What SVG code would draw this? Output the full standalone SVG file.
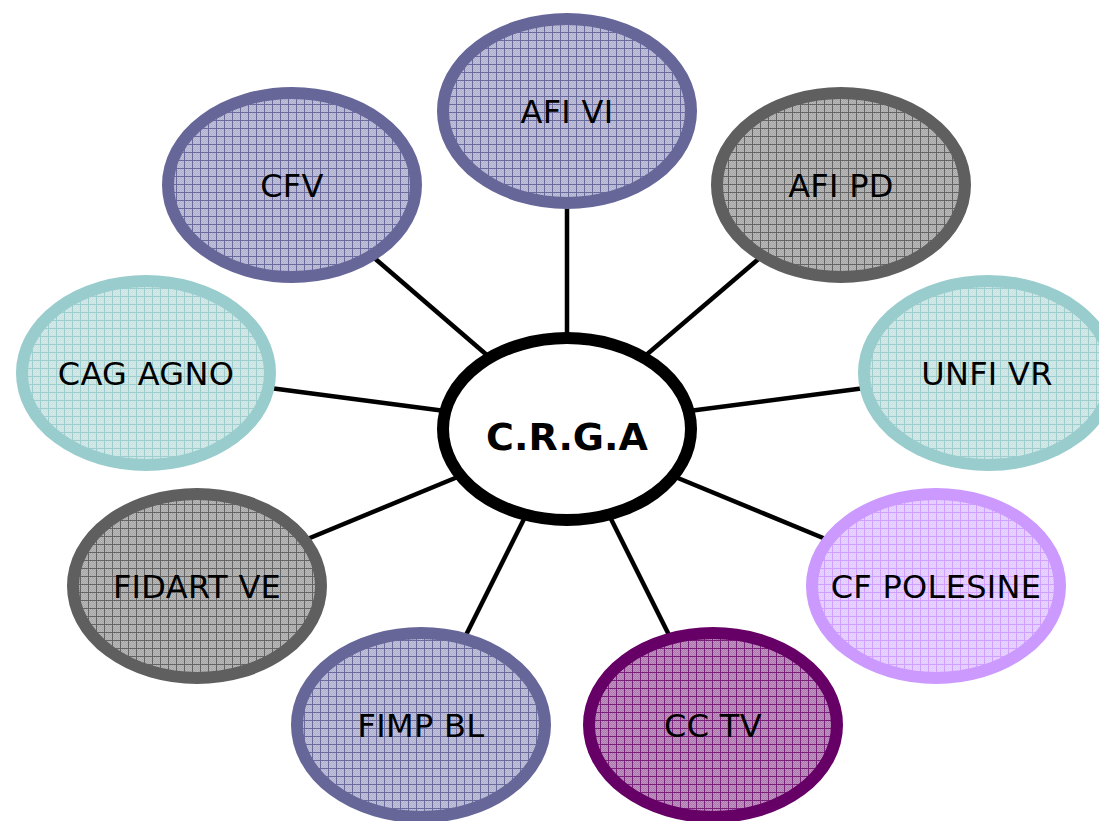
<svg xmlns="http://www.w3.org/2000/svg" width="1099" height="821" viewBox="0 0 1099 821">
  <style>
    .node { stroke-width: 12; }
    .lbl { font-family: "DejaVu Sans", Verdana, sans-serif; font-size: 32px; letter-spacing: 0.3px; fill: #000; text-anchor: middle; }
    .hub { font-family: "DejaVu Sans", Verdana, sans-serif; font-size: 38px; font-weight: bold; fill: #000; text-anchor: middle; }
    .conn line { stroke: #000; stroke-width: 4.5; }
  </style>
  <defs>
    <pattern id="dither" width="2" height="2" patternUnits="userSpaceOnUse">
      <rect x="0" y="0" width="1" height="1" fill="#fff" fill-opacity="0.22"/>
      <rect x="1" y="1" width="1" height="1" fill="#fff" fill-opacity="0.22"/>
    </pattern>
    <pattern id="pBlue" width="8" height="8" patternUnits="userSpaceOnUse">
      <rect width="8" height="8" fill="#b0b0cf"/>
      <rect width="8" height="8" fill="url(#dither)"/>
      <path d="M0 0.5H8M0.5 0V8" stroke="#6a6a9c" stroke-width="1" fill="none"/>
    </pattern>
    <pattern id="pGrey" width="8" height="8" patternUnits="userSpaceOnUse">
      <rect width="8" height="8" fill="#a6a6a6"/>
      <rect width="8" height="8" fill="url(#dither)"/>
      <path d="M0 0.5H8M0.5 0V8" stroke="#646464" stroke-width="1" fill="none"/>
    </pattern>
    <pattern id="pTeal" width="8" height="8" patternUnits="userSpaceOnUse">
      <rect width="8" height="8" fill="#c9e3e3"/>
      <rect width="8" height="8" fill="url(#dither)"/>
      <path d="M0 0.5H8M0.5 0V8" stroke="#9dcdcd" stroke-width="1" fill="none"/>
    </pattern>
    <pattern id="pLilac" width="8" height="8" patternUnits="userSpaceOnUse">
      <rect width="8" height="8" fill="#e2c9ff"/>
      <rect width="8" height="8" fill="url(#dither)"/>
      <path d="M0 0.5H8M0.5 0V8" stroke="#cfa0ff" stroke-width="1" fill="none"/>
    </pattern>
    <pattern id="pPlum" width="8" height="8" patternUnits="userSpaceOnUse">
      <rect width="8" height="8" fill="#ad78ad"/>
      <rect width="8" height="8" fill="url(#dither)"/>
      <path d="M0 0.5H8M0.5 0V8" stroke="#7a207a" stroke-width="1" fill="none"/>
    </pattern>
  </defs>

  <rect width="1099" height="821" fill="#fff"/>

  <g id="connectors" class="conn">
    <line x1="567" y1="205" x2="567" y2="336"/>
    <line x1="372" y1="256" x2="488" y2="356"/>
    <line x1="762" y1="256" x2="645" y2="356"/>
    <line x1="270" y1="388" x2="445" y2="411"/>
    <line x1="865" y1="388" x2="689" y2="411"/>
    <line x1="305" y1="540" x2="460" y2="476"/>
    <line x1="828" y1="540" x2="673" y2="476"/>
    <line x1="465" y1="637" x2="525" y2="517"/>
    <line x1="670" y1="637" x2="610" y2="517"/>
  </g>

  <g id="hub">
    <ellipse cx="567" cy="429" rx="124" ry="91" fill="#fff" stroke="#000" stroke-width="12"/>
    <text class="hub" x="567" y="450">C.R.G.A</text>
  </g>

  <g id="afi-vi">
    <ellipse class="node" cx="567" cy="111" rx="124" ry="92" fill="url(#pBlue)" stroke="#666699"/>
    <text class="lbl" x="567" y="123">AFI VI</text>
  </g>
  <g id="cfv">
    <ellipse class="node" cx="292" cy="185" rx="124" ry="92" fill="url(#pBlue)" stroke="#666699"/>
    <text class="lbl" x="292" y="197">CFV</text>
  </g>
  <g id="afi-pd">
    <ellipse class="node" cx="841" cy="185" rx="124" ry="92" fill="url(#pGrey)" stroke="#5f5f5f"/>
    <text class="lbl" x="841" y="197">AFI PD</text>
  </g>
  <g id="cag-agno">
    <ellipse class="node" cx="146" cy="373" rx="124" ry="92" fill="url(#pTeal)" stroke="#99cccc"/>
    <text class="lbl" x="146" y="385">CAG AGNO</text>
  </g>
  <g id="unfi-vr">
    <ellipse class="node" cx="988" cy="373" rx="124" ry="92" fill="url(#pTeal)" stroke="#99cccc"/>
    <text class="lbl" x="987" y="385">UNFI VR</text>
  </g>
  <g id="fidart-ve">
    <ellipse class="node" cx="197" cy="586" rx="124" ry="92" fill="url(#pGrey)" stroke="#5f5f5f"/>
    <text class="lbl" x="197" y="598">FIDART VE</text>
  </g>
  <g id="cf-polesine">
    <ellipse class="node" cx="936" cy="586" rx="124" ry="92" fill="url(#pLilac)" stroke="#cc99ff"/>
    <text class="lbl" x="936" y="598">CF POLESINE</text>
  </g>
  <g id="fimp-bl">
    <ellipse class="node" cx="421" cy="725" rx="124" ry="92" fill="url(#pBlue)" stroke="#666699"/>
    <text class="lbl" x="421" y="737">FIMP BL</text>
  </g>
  <g id="cc-tv">
    <ellipse class="node" cx="713" cy="725" rx="124" ry="92" fill="url(#pPlum)" stroke="#660066"/>
    <text class="lbl" x="713" y="737">CC TV</text>
  </g>
</svg>
